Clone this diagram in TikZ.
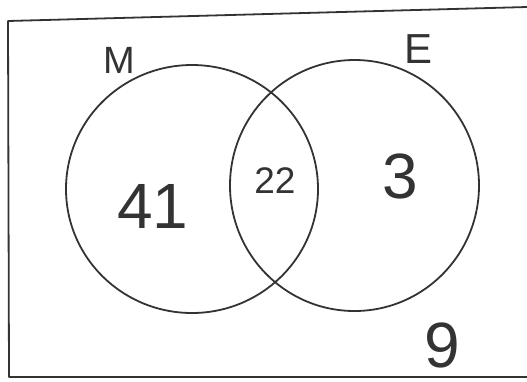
\documentclass[tikz,border=0pt]{standalone}
\usepackage{fontspec}
\setmainfont{Liberation Sans}
\definecolor{ink}{HTML}{333333}
\begin{document}
\begin{tikzpicture}[x=1pt,y=-1pt,
  pen/.style={draw=ink,line width=1.8pt,line join=round,line cap=round},
  lbl/.style={text=ink,inner sep=0pt,font=#1},
  lbl/.default=\fontsize{36}{36}\selectfont]
\useasboundingbox (0,0) rectangle (527,381);
% frame
\coordinate (tl) at (8,21);
\coordinate (tr) at (527,7);
\coordinate (bl) at (9,377);
\coordinate (br) at (527,377);
\draw[pen] (tr) -- (tl) -- (bl) -- (br);
% sets
\draw[pen] (192,189) ellipse [x radius=126, y radius=124];
\draw[pen] (354.5,185.5) ellipse [x radius=124.5, y radius=125.5];
% labels
\node[lbl=\fontsize{38}{38}\selectfont] (m) at (119,60) {M};
\node[lbl=\fontsize{42}{42}\selectfont] (e) at (419,49) {E};
\node[lbl=\fontsize{64}{64}\selectfont] (a) at (153,206) {41};
\node[lbl=\fontsize{37}{37}\selectfont] (b) at (275,181) {22};
\node[lbl=\fontsize{64}{64}\selectfont] (c) at (400,176) {3};
\node[lbl=\fontsize{64}{64}\selectfont] (d) at (442,345) {9};
\end{tikzpicture}
\end{document}
